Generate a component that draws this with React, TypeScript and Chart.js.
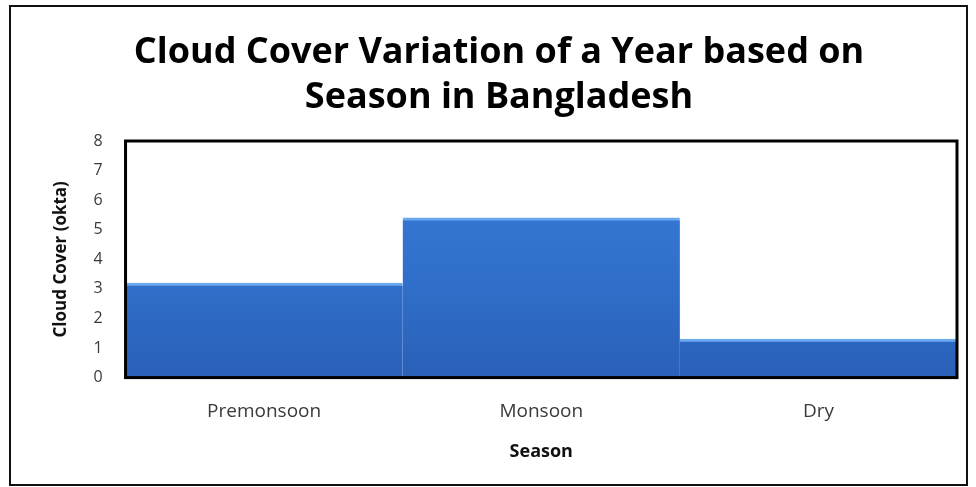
import React, { useEffect, useRef } from "react";
import { Chart, registerables } from "chart.js";

Chart.register(...registerables);

const categories = ["Premonsoon", "Monsoon", "Dry"];
const cloudCover = [3.2, 5.4, 1.3];
const titleLines = ["Cloud Cover Variation of a Year based on", "Season in Bangladesh"];
const yAxisTitle = "Cloud Cover (okta)";
const xAxisTitle = "Season";

const plotBorder = {
  id: "plotBorder",
  afterDatasetsDraw(chart: any) {
    const { ctx, chartArea } = chart;
    ctx.save();
    ctx.strokeStyle = "#000";
    ctx.lineWidth = 3;
    ctx.strokeRect(chartArea.left, chartArea.top, chartArea.right - chartArea.left, chartArea.bottom - chartArea.top);
    ctx.restore();
  },
};

export default function App() {
  const ref = useRef<HTMLCanvasElement>(null);
  useEffect(() => {
    const canvas = ref.current!;
    const chart = new Chart(canvas, {
      type: "bar",
      data: {
        labels: categories,
        datasets: [
          {
            data: cloudCover,
            backgroundColor: (c: any) => {
              const area = c.chart.chartArea;
              if (!area) return "#2f6fca";
              const g = c.chart.ctx.createLinearGradient(0, area.top, 0, area.bottom);
              g.addColorStop(0, "#3b7edb");
              g.addColorStop(0.6, "#2f6fca");
              g.addColorStop(1, "#2a60b8");
              return g;
            },
            borderColor: "#6aa8f0",
            borderWidth: { top: 3, left: 0, right: 0, bottom: 0 },
            borderSkipped: false,
            barPercentage: 1,
            categoryPercentage: 1,
          },
        ],
      },
      options: {
        animation: false,
        responsive: false,
        layout: { padding: { left: 30, right: 9, top: 0, bottom: 21 } },
        plugins: {
          legend: { display: false },
          tooltip: { enabled: false },
          title: {
            display: true,
            text: titleLines,
            color: "#000",
            font: { family: "Open Sans", size: 36, weight: "bold", lineHeight: 1.25 },
            padding: { top: 23, bottom: 21 },
          },
        },
        scales: {
          x: {
            grid: { display: false },
            border: { display: false },
            ticks: { color: "#3a3a3a", font: { family: "Open Sans", size: 19 }, padding: 15 },
            title: {
              display: true,
              text: xAxisTitle,
              color: "#111",
              font: { family: "Open Sans", size: 18, weight: "bold" },
              padding: { top: 3, bottom: 0 },
            },
          },
          y: {
            min: 0,
            max: 8,
            grid: { display: false },
            border: { display: false },
            ticks: { stepSize: 1, color: "#3a3a3a", font: { family: "Open Sans", size: 16 }, padding: 15 },
            title: {
              display: true,
              text: yAxisTitle,
              color: "#111",
              font: { family: "Open Sans", size: 17, weight: "bold" },
              padding: { top: 10, bottom: 7 },
            },
          },
        },
      },
      plugins: [plotBorder],
    });
    return () => chart.destroy();
  }, []);
  return (
    <div
      style={{
        position: "absolute",
        left: 9,
        top: 5,
        width: 959,
        height: 481,
        border: "2px solid #111",
        boxSizing: "border-box",
        background: "#fff",
      }}
    >
      <canvas ref={ref} width={955} height={477} style={{ display: "block" }} />
    </div>
  );
}
